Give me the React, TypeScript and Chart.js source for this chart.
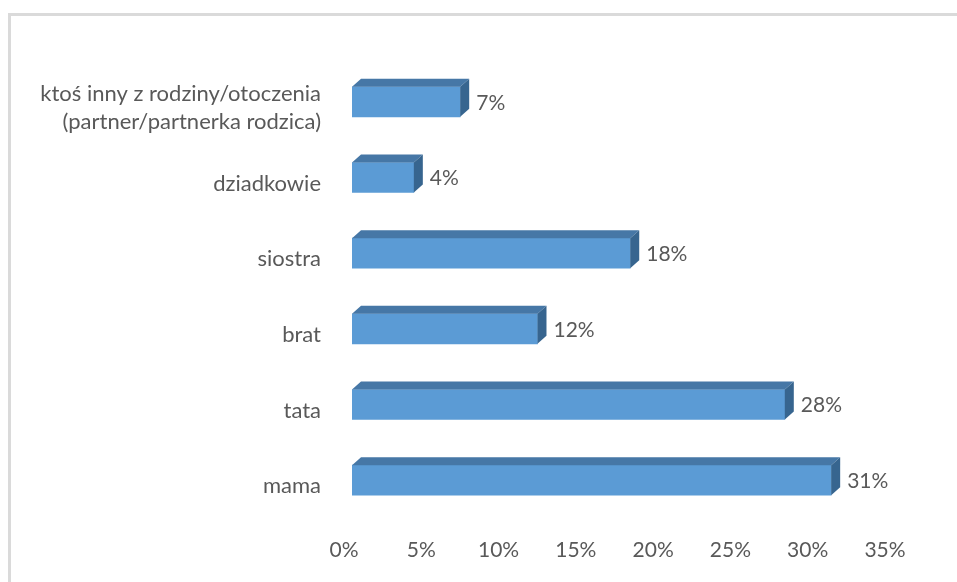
import React, { useEffect, useRef } from "react";
import { Chart, registerables } from "chart.js";

Chart.register(...registerables);

const categories: (string | string[])[] = [
  ["ktoś inny z rodziny/otoczenia", "(partner/partnerka rodzica)"],
  "dziadkowie",
  "siostra",
  "brat",
  "tata",
  "mama",
];
const values: number[] = [7, 4, 18, 12, 28, 31];
const axisMin = 0;
const axisMax = 35;
const axisStep = 5;

const FRONT = "#5b9bd5";
const TOP = "#4677a6";
const SIDE = "#37658f";
const TEXT = "#595959";
const FONT = "Lato, 'Open Sans', sans-serif";

const DX = 9;
const DY = 8;

const bar3d = {
  id: "bar3d",
  afterDatasetsDraw(chart: any) {
    const ctx = chart.ctx;
    const meta = chart.getDatasetMeta(0);
    ctx.save();
    meta.data.forEach((bar: any, i: number) => {
      const { x, y, base, height } = bar.getProps(["x", "y", "base", "height"], true);
      const top = y - height / 2;
      const bottom = y + height / 2;
      // top face
      ctx.beginPath();
      ctx.moveTo(base, top);
      ctx.lineTo(base + DX, top - DY);
      ctx.lineTo(x + DX, top - DY);
      ctx.lineTo(x, top);
      ctx.closePath();
      ctx.fillStyle = TOP;
      ctx.fill();
      // side face
      ctx.beginPath();
      ctx.moveTo(x, top);
      ctx.lineTo(x + DX, top - DY);
      ctx.lineTo(x + DX, bottom - DY);
      ctx.lineTo(x, bottom);
      ctx.closePath();
      ctx.fillStyle = SIDE;
      ctx.fill();
      // value label
      ctx.fillStyle = TEXT;
      ctx.font = `21px ${FONT}`;
      ctx.textAlign = "left";
      ctx.textBaseline = "middle";
      ctx.fillText(values[i] + "%", x + DX + 7, y + 1);
    });
    ctx.restore();
  },
};

export default function App() {
  const ref = useRef<HTMLCanvasElement | null>(null);

  useEffect(() => {
    if (!ref.current) return;
    const chart = new Chart(ref.current, {
      type: "bar",
      data: {
        labels: categories as any,
        datasets: [
          {
            data: values,
            backgroundColor: FRONT,
            borderWidth: 0,
            barThickness: 30,
          },
        ],
      },
      options: {
        indexAxis: "y",
        animation: false,
        responsive: true,
        maintainAspectRatio: false,
        layout: { padding: { top: 64, right: 64, left: 0, bottom: 0 } },
        plugins: {
          legend: { display: false },
          tooltip: { enabled: false },
        },
        scales: {
          x: {
            min: axisMin,
            max: axisMax,
            grid: { display: false, drawTicks: false },
            border: { display: false },
            ticks: {
              stepSize: axisStep,
              padding: 20,
              labelOffset: -8,
              color: TEXT,
              font: { family: FONT, size: 21 },
              callback: (v: any) => v + "%",
            },
            afterFit: (s: any) => {
              s.height = 64;
            },
          },
          y: {
            grid: { display: false, drawTicks: false },
            border: { display: false },
            ticks: {
              padding: 31,
              labelOffset: 6,
              color: TEXT,
              font: { family: FONT, size: 22, lineHeight: 1.27 },
            },
            afterFit: (s: any) => {
              s.width = 352;
            },
          },
        },
      },
      plugins: [bar3d],
    });
    return () => chart.destroy();
  }, []);

  return (
    <>
      <div
        style={{
          position: "absolute",
          left: 8,
          top: 13,
          width: 949,
          height: 569,
          boxSizing: "border-box",
          borderLeft: "3px solid #dadada",
          borderTop: "3px solid #dadada",
        }}
      />
      <div style={{ position: "absolute", left: 0, top: 0, width: 957, height: 582 }}>
        <canvas ref={ref} />
      </div>
    </>
  );
}
